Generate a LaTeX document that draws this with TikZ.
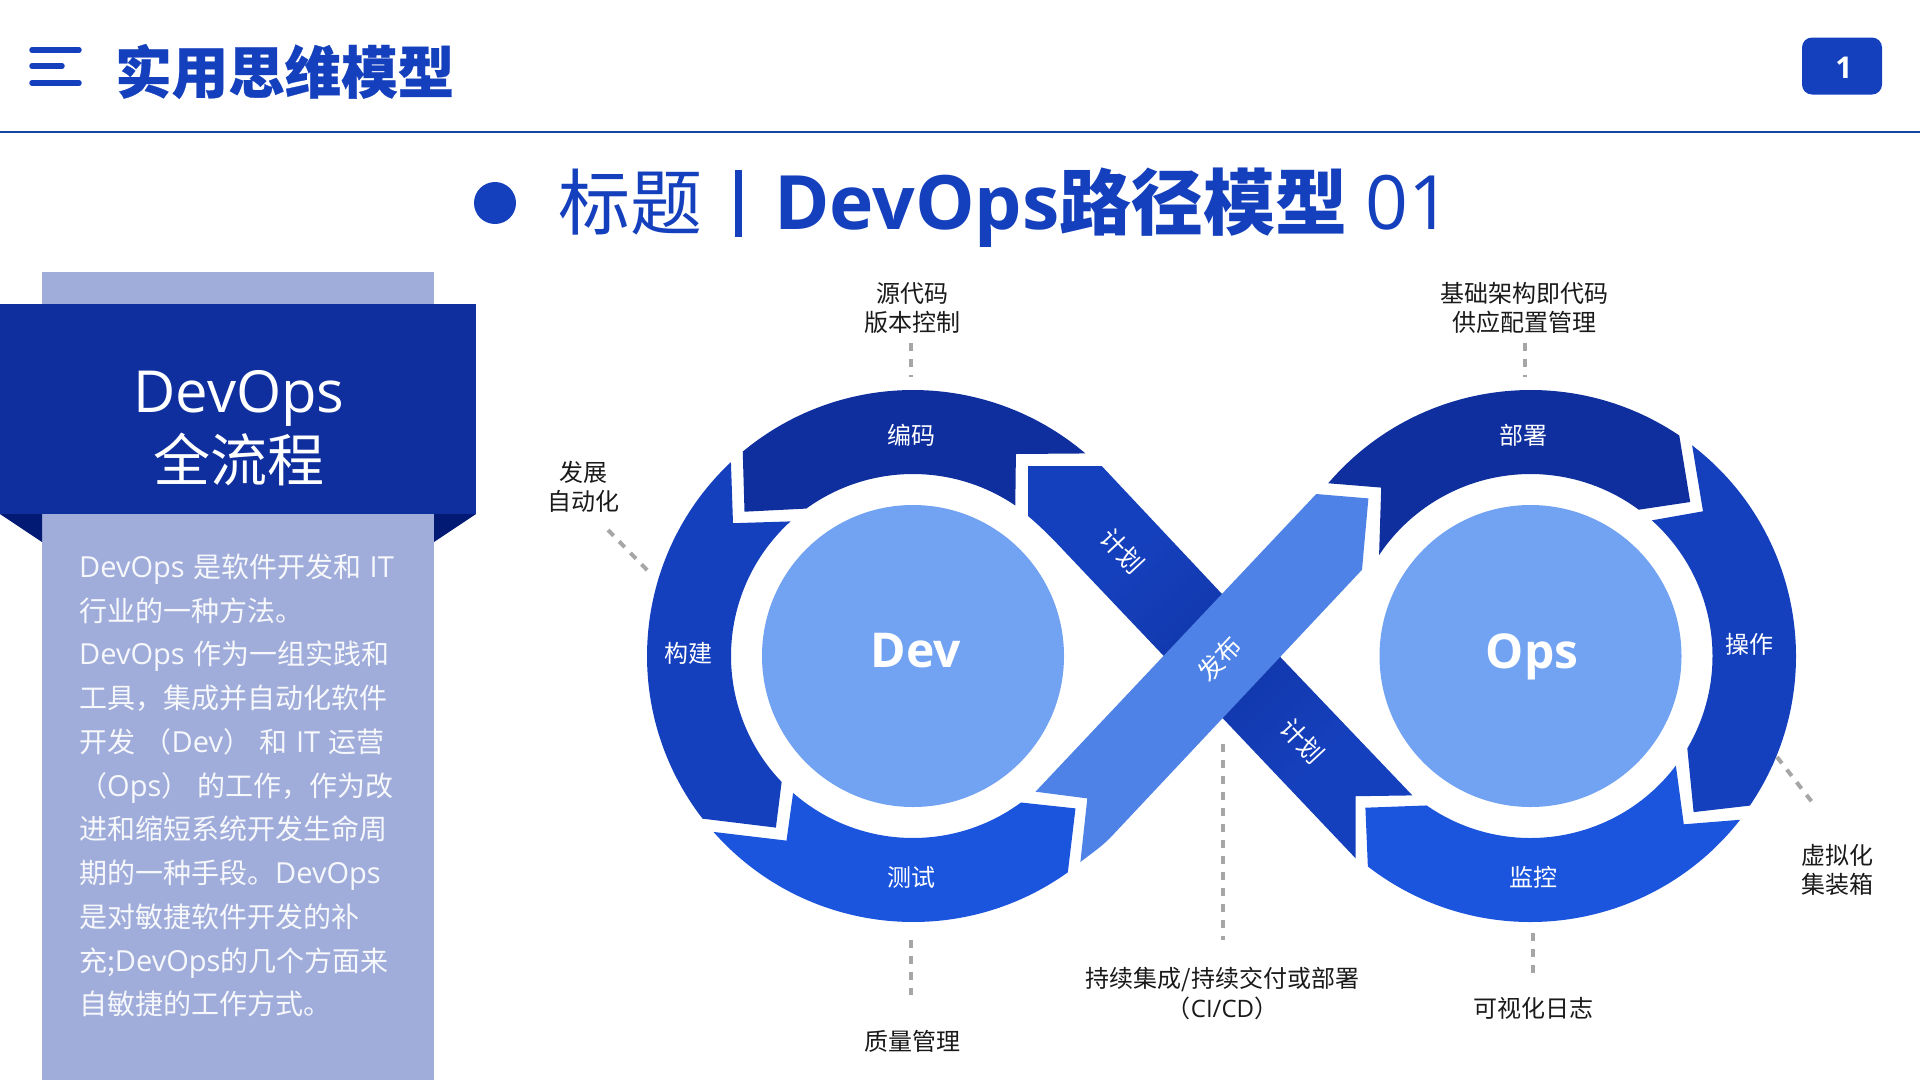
\documentclass[tikz,border=0pt]{standalone}
\usepackage{fontspec}
\usetikzlibrary{calc}
\setmainfont{Noto Sans CJK SC}
\newfontfamily\latf{Open Sans}
\newfontfamily\cjkh[BoldFeatures={FakeBold=0.5}]{Noto Sans CJK SC}
\newcommand\la[1]{{\latf #1}}
\newcommand\lb[1]{{\latf\fontsize{29}{43.75}\selectfont #1}}
\newcommand\gp{\hspace{8.5pt}}
\newcommand\fs[1]{\fontsize{#1}{#1}\selectfont}
\definecolor{cDark}{HTML}{0F2F9F}
\definecolor{cMid}{HTML}{1540BD}
\definecolor{cCross}{HTML}{1136A8}
\definecolor{cBright}{HTML}{1C55DD}
\definecolor{cLight}{HTML}{72A2F2}
\definecolor{cBand}{HTML}{4F82E6}
\definecolor{cPale}{HTML}{A0ADDA}
\definecolor{cNavy}{HTML}{021A73}
\definecolor{cLine}{HTML}{1546A0}
\definecolor{cDash}{HTML}{A6A6A6}
\definecolor{cText}{HTML}{1A1A1A}
\pgfdeclarehorizontalshading{bandshade}{100bp}{color(0bp)=(cMid); color(32bp)=(cMid); color(50bp)=(cCross); color(68bp)=(cMid); color(100bp)=(cMid)}
\tikzset{
  seglabel/.style={text=white,font=\fs{24}},
  bandlabel/.style={text=white,font=\fs{25}},
  outlabel/.style={text=cText,font=\fs{24},align=center,inner sep=0pt},
  leader/.style={cDash,line width=4pt,dash pattern=on 8pt off 8pt},
  hub/.style={circle,fill=cLight,minimum size=302pt,inner sep=0pt},
  hubtext/.style={text=white,font=\latf\bfseries\fs{48},inner sep=0pt},
  hamb/.style={cMid,line width=5.5pt,line cap=round},
  headtext/.style={anchor=base west,inner sep=0pt,text=cMid}
}
\begin{document}
\begin{tikzpicture}[x=1pt,y=-1pt]
\useasboundingbox (0,0) rectangle (1920,1080);
\fill[white] (0,0) rectangle (1920,1080);
% header
\coordinate (h1a) at (32,50); \coordinate (h1b) at (79,50);
\coordinate (h2a) at (32,66); \coordinate (h2b) at (62,66);
\coordinate (h3a) at (32,83); \coordinate (h3b) at (79,83);
\draw[hamb] (h1a) -- (h1b);
\draw[hamb] (h2a) -- (h2b);
\draw[hamb] (h3a) -- (h3b);
\node[anchor=west,inner sep=0pt,text=cMid,font=\cjkh\bfseries\fs{56.5}] (title) at (115,71.5) {实用思维模型};
\fill[cLine] (0,130.5) rectangle (1920,132.5);
\node[fill=cMid,rounded corners=10pt,minimum width=80pt,minimum height=57pt,inner sep=0pt] (page) at (1842,66) {};
\node[text=white,font=\latf\bfseries\fs{30},inner sep=0pt] (pnum) at (1844,68) {1};
% headline
\node[circle,fill=cMid,minimum size=42pt,inner sep=0pt] (dot) at (495,203) {};
\node[headtext,font=\fs{72}] (hd1) at (558,229) {标题};
\fill[cMid] (735,170) rectangle (742,237);
\node[headtext,font=\bfseries\fs{72}] (hd2) at (774,229) {{\latf\fontsize{75}{75}\selectfont DevOps}路径模型};
\node[headtext,font=\latf\fs{75}] (hd3) at (1365,229) {01};
% left panel
\fill[cPale] (42,272) rectangle (434,1080);
\fill[cNavy] (0,514) -- (42,514) -- (42,542) -- cycle;
\fill[cNavy] (476,514) -- (434,514) -- (434,542) -- cycle;
\fill[cDark] (0,304) rectangle (476,514);
\node[text=white,font=\latf\fs{58},inner sep=0pt] (pa) at (239,398) {DevOps};
\node[text=white,font=\fs{57},inner sep=0pt] (pb) at (238.5,459) {全流程};
\node[anchor=north west,inner sep=0pt,align=left,text=white!92!cPale,font=\fontsize{28}{43.75}\selectfont] (body) at (79,553.5) {%
\lb{DevOps}\gp 是软件开发和\gp\lb{IT}\\
行业的一种方法。\\
\lb{DevOps}\gp 作为一组实践和\\
工具，集成并自动化软件\\
开发\gp（\lb{Dev}）\gp 和\gp\lb{IT}\gp 运营\\
（\lb{Ops}）\gp 的工作，作为改\\
进和缩短系统开发生命周\\
期的一种手段。\lb{DevOps}\\
是对敏捷软件开发的补\\
充;\lb{DevOps}的几个方面来\\
自敏捷的工作方式。};
% bands
\coordinate (c1) at (913,656);
\coordinate (c2) at (1530.5,656);
\shade[shading=bandshade,shading angle=-46]
  (1028,466) -- (1101.7,466) -- (1222,594) -- (1280,656.7) -- (1412.4,795.4) -- (1355.6,796.2) -- (1355.6,858.3)
  -- (1250,747) -- (1163.3,655.5) -- (1066,553) .. controls (1052,538) and (1040,526) .. (1028,516) -- cycle;
\fill[cBand] (1035.5,791.7) -- (1087.3,798.4) -- (1080.4,862) .. controls (1092,853) and (1101,847) .. (1110,838)
  -- (1362,569.8) -- (1368.4,498.4) -- (1316.2,494) -- cycle;
% Dev ring
\fill[cDark] ($(c1)+(-129.8:266)$) arc[start angle=-129.8,end angle=-49.6,radius=266] -- (1015.9,454)
  -- ($(c1)+(-55.8:182)$) arc[start angle=-55.8,end angle=-125.9,radius=182] -- (744.5,511.7) -- cycle;
\fill[cMid] ($(c1)+(-133.2:266)$) arc[start angle=-133.2,end angle=-217.7,radius=266] -- (775.9,827.6)
  -- ($(c1)+(-223.8:182)$) arc[start angle=-223.8,end angle=-132.3,radius=182] -- (733,523.2) -- cycle;
\fill[cBright] ($(c1)+(-221.4:266)$) arc[start angle=-221.4,end angle=-305.6,radius=266] -- (1075.5,808.4)
  -- ($(c1)+(-306.4:182)$) arc[start angle=-306.4,end angle=-228.8,radius=182] -- (786.5,840.6) -- cycle;
% Ops ring
\fill[cDark] ($(c2)+(-139.5:266)$) arc[start angle=-139.5,end angle=-56,radius=266] -- (1690.2,502)
  -- ($(c2)+(-53.5:182)$) arc[start angle=-53.5,end angle=-146.3,radius=182] -- (1381.2,487.6) -- cycle;
\fill[cMid] ($(c2)+(-52.5:265.5)$) arc[start angle=-52.5,end angle=34.3,radius=265.5] -- (1693.6,812.1)
  -- ($(c2)+(30.5:182)$) arc[start angle=30.5,end angle=-48.2,radius=182] -- (1703,511.3) -- cycle;
\fill[cBright] ($(c2)+(38:266)$) arc[start angle=38,end angle=127.7,radius=266] -- (1365.4,807.7)
  -- ($(c2)+(124.8:182)$) arc[start angle=124.8,end angle=37,radius=182] -- (1683.8,824.3) -- cycle;
% hubs
\node[hub] (dev) at (c1) {}; \node[hubtext] (devt) at (916,651) {Dev};
\node[hub] (ops) at (c2) {}; \node[hubtext] (opst) at (1532,656.5) {Ops};
% segment labels
\node[seglabel] (s1) at (911.5,435) {编码};
\node[seglabel] (s2) at (688.5,653) {构建};
\node[seglabel] (s3) at (911.5,877) {测试};
\node[seglabel] (s4) at (1523.5,435) {部署};
\node[seglabel] (s5) at (1749,644) {操作};
\node[seglabel] (s6) at (1533.5,877) {监控};
\node[bandlabel,rotate=-47] (s7) at (1122,551) {计划};
\node[bandlabel,rotate=-47] (s8) at (1302,741) {计划};
\node[bandlabel,rotate=47] (s9) at (1220,659) {发布};
% outer labels
\node[outlabel] (l1) at (912,308) {源代码\\[5pt]版本控制};
\node[outlabel] (l2) at (1524,308) {基础架构即代码\\[5pt]供应配置管理};
\node[outlabel] (l3) at (583,486.5) {发展\\[5pt]自动化};
\node[outlabel] (l4) at (1837.5,870) {虚拟化\\[5pt]集装箱};
\node[outlabel] (l5) at (1222.5,993.5) {持续集成/持续交付或部署\\[5pt]（\la{CI/CD}）};
\node[outlabel] (l6) at (1533.5,1008) {可视化日志};
\node[outlabel] (l7) at (912,1041) {质量管理};
% leaders
\coordinate (e1) at (911,343); \coordinate (f1) at (911,377);
\coordinate (e2) at (1524.5,343); \coordinate (f2) at (1524.5,377);
\coordinate (e3) at (608,530); \coordinate (f3) at (649,572);
\coordinate (e4) at (1777,757); \coordinate (f4) at (1812,802);
\coordinate (e5) at (1222.5,744); \coordinate (f5) at (1222.5,940);
\coordinate (e6) at (911,940); \coordinate (f6) at (911,995);
\coordinate (e7) at (1533,933); \coordinate (f7) at (1533,973);
\foreach \i in {1,...,7} {\draw[leader] (e\i) -- (f\i);}
\end{tikzpicture}
\end{document}
